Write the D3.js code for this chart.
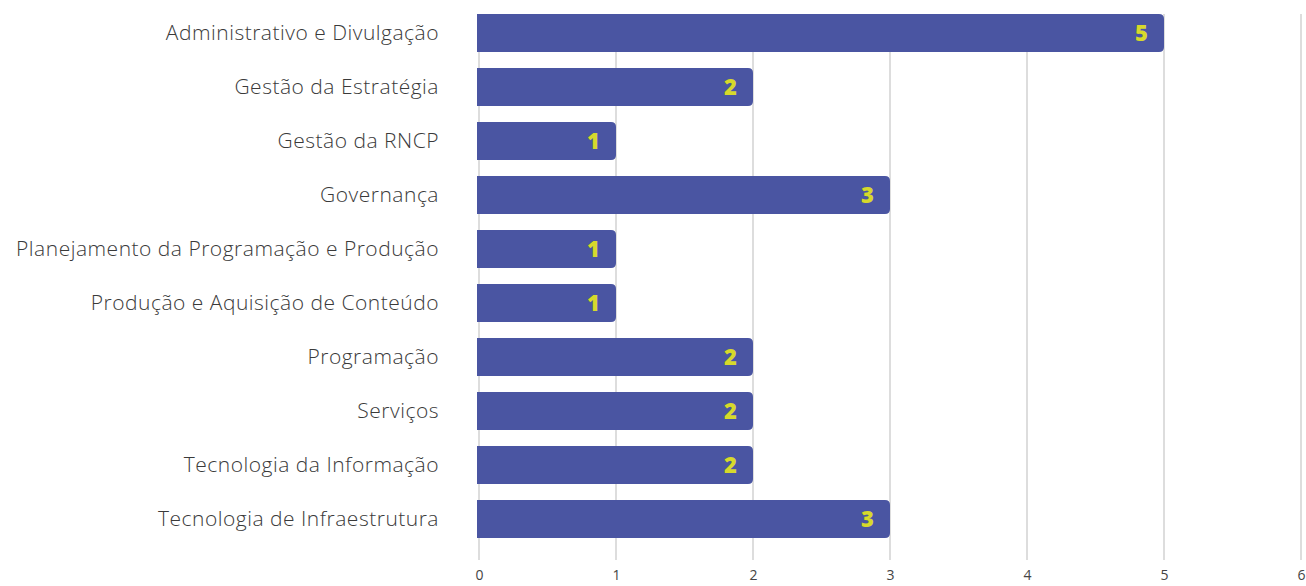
<!DOCTYPE html>
<html><head><meta charset="utf-8">
<script src="https://cdn.jsdelivr.net/npm/d3@7"></script>
<style>
body{margin:0;background:#fff;}
svg{display:block;}
</style></head>
<body>
<svg id="chart" width="1306" height="586"></svg>
<script>
const categories = ["Administrativo e Divulgação","Gestão da Estratégia","Gestão da RNCP","Governança","Planejamento da Programação e Produção","Produção e Aquisição de Conteúdo","Programação","Serviços","Tecnologia da Informação","Tecnologia de Infraestrutura"];
const values = [5,2,1,3,1,1,2,2,2,3];
const tickValues = [0,1,2,3,4,5,6];

const svg = d3.select("#chart");
const font = "'Open Sans', sans-serif";
const x = d3.scaleLinear().domain([0,6]).range([479,1301]);
const y = d3.scaleBand().domain(categories).range([14,538]).paddingInner(16/54).paddingOuter(0);

// grid
svg.append("g").selectAll("line").data(tickValues).join("line")
  .attr("x1",d=>x(d)).attr("x2",d=>x(d)).attr("y1",14).attr("y2",560)
  .attr("stroke","#dddddd").attr("stroke-width",2);

// x axis labels
const xa = svg.append("g").attr("transform","translate(0,560)")
  .call(d3.axisBottom(x).tickValues(tickValues).tickSize(0).tickPadding(10).tickFormat(d3.format("d")));
xa.select(".domain").remove();
xa.selectAll("text").attr("font-family",font).attr("font-weight",400).attr("font-size",14).attr("fill","#444");

// y axis labels
const ya = svg.append("g").attr("transform","translate(439,0)")
  .call(d3.axisLeft(y).tickSize(0).tickPadding(0));
ya.select(".domain").remove();
ya.selectAll("text").attr("font-family",font).attr("font-weight",300).attr("font-size",21)
  .attr("letter-spacing","0.5px").attr("fill","#3a3a3a");

// bars with rounded right corners
const r = 5;
const data = categories.map((c,i)=>({c, v: values[i]}));
svg.append("g").selectAll("path").data(data).join("path")
  .attr("fill","#4a55a2")
  .attr("d", d => {
    const x0 = x(0)-2, x1 = x(d.v), y0 = y(d.c), h = y.bandwidth();
    return `M${x0},${y0}H${x1-r}Q${x1},${y0} ${x1},${y0+r}V${y0+h-r}Q${x1},${y0+h} ${x1-r},${y0+h}H${x0}Z`;
  });

// value labels
svg.append("g").selectAll("text").data(data).join("text")
  .attr("x", d => x(d.v)-16)
  .attr("y", d => y(d.c)+y.bandwidth()/2)
  .attr("dy","0.36em")
  .attr("text-anchor","end")
  .attr("font-family",font).attr("font-weight",800).attr("font-size",22)
  .attr("fill","#d6d92b")
  .text(d=>d.v);
</script>
</body></html>
